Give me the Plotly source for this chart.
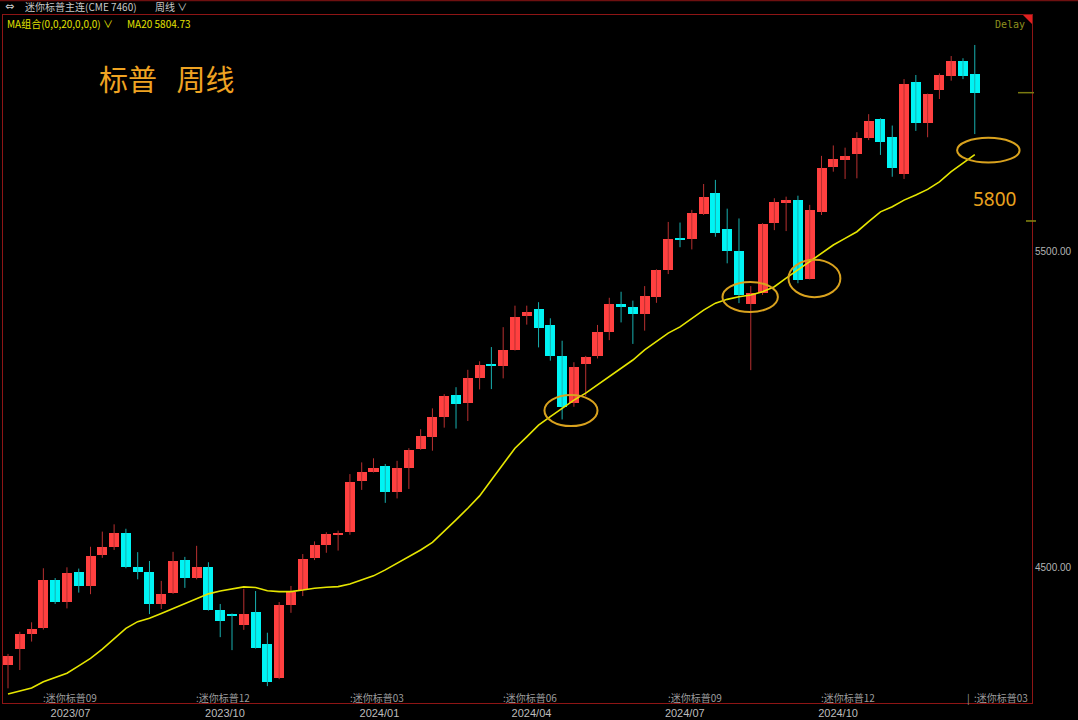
import plotly.graph_objects as go

# ---------------- data (weekly candles) ----------------
OPEN = [4190, 4240, 4289, 4308, 4459, 4390, 4485, 4440, 4538, 4564,
        4609, 4501, 4485, 4384, 4418, 4522, 4464, 4500, 4364, 4350,
        4317, 4358, 4256, 4148, 4380, 4427, 4528, 4569, 4603, 4610,
        4772, 4802, 4820, 4737, 4813, 4873, 4912, 4976, 5044, 5019,
        5097, 5143, 5135, 5187, 5294, 5316, 5266, 5169, 5018, 5142,
        5169, 5243, 5331, 5324, 5302, 5353, 5440, 5542, 5537, 5616,
        5685, 5569, 5500, 5332, 5366, 5588, 5654, 5661, 5412, 5624,
        5765, 5788, 5806, 5859, 5917, 5862, 5744, 6035, 5904, 6010,
        6055, 6100, 6061]
HIGH = [4225, 4295, 4325, 4496, 4465, 4499, 4495, 4564, 4612, 4635,
        4621, 4547, 4519, 4456, 4548, 4532, 4567, 4515, 4383, 4353,
        4431, 4424, 4292, 4389, 4440, 4541, 4581, 4610, 4615, 4794,
        4831, 4844, 4826, 4836, 4876, 4936, 5002, 5047, 5069, 5124,
        5151, 5196, 5259, 5327, 5327, 5338, 5287, 5216, 5148, 5168,
        5266, 5352, 5371, 5343, 5389, 5442, 5592, 5590, 5630, 5712,
        5725, 5634, 5603, 5389, 5588, 5667, 5672, 5675, 5646, 5801,
        5834, 5827, 5876, 5933, 5920, 5897, 6044, 6057, 5998, 6062,
        6117, 6110, 6152]
LOW = [4116, 4174, 4264, 4302, 4383, 4369, 4419, 4414, 4529, 4554,
       4496, 4461, 4351, 4367, 4415, 4434, 4461, 4362, 4278, 4237,
       4301, 4242, 4123, 4145, 4355, 4408, 4522, 4545, 4552, 4602,
       4744, 4799, 4703, 4717, 4747, 4871, 4868, 4941, 4938, 4962,
       5062, 5063, 5097, 5185, 5267, 5195, 5153, 4967, 5007, 5041,
       5160, 5218, 5274, 5206, 5248, 5336, 5427, 5512, 5505, 5614,
       5545, 5461, 5335, 5123, 5361, 5566, 5563, 5398, 5410, 5614,
       5751, 5728, 5730, 5851, 5804, 5735, 5728, 5880, 5860, 5981,
       6039, 6044, 5870]
CLOSE = [4219, 4288, 4305, 4460, 4389, 4482, 4440, 4536, 4564, 4608,
         4499, 4485, 4382, 4414, 4520, 4464, 4500, 4364, 4330, 4346,
         4351, 4245, 4137, 4379, 4422, 4524, 4569, 4604, 4607, 4769,
         4801, 4814, 4737, 4812, 4870, 4915, 4975, 5042, 5017, 5097,
         5140, 5135, 5186, 5292, 5307, 5257, 5169, 5007, 5134, 5165,
         5245, 5331, 5324, 5302, 5358, 5440, 5539, 5535, 5619, 5672,
         5556, 5501, 5361, 5368, 5585, 5655, 5660, 5408, 5630, 5763,
         5790, 5801, 5859, 5912, 5846, 5762, 6029, 5904, 5996, 6057,
         6102, 6055, 6001]
MA20 = [4098, 4108, 4117, 4137, 4150, 4164, 4187, 4211, 4240, 4274,
        4306, 4327, 4338, 4353, 4369, 4385, 4401, 4415, 4424, 4430,
        4437, 4435, 4425, 4422, 4422, 4427, 4433, 4436, 4438, 4446,
        4459, 4472, 4491, 4512, 4533, 4554, 4578, 4612, 4649, 4686,
        4725, 4775, 4826, 4876, 4912, 4949, 4976, 5002, 5028, 5050,
        5076, 5102, 5129, 5155, 5187, 5213, 5240, 5260, 5287, 5313,
        5335, 5347, 5355, 5361, 5371, 5387, 5414, 5440, 5466, 5493,
        5519, 5540, 5561, 5593, 5624, 5640, 5661, 5677, 5695, 5719,
        5751, 5778, 5805]
MA_LAST = "5804.73"

X_TICK_POS = [5.3, 18.4, 31.5, 44.4, 57.4, 70.4]
X_TICK_LABELS = ["2023/07", "2023/10", "2024/01", "2024/04", "2024/07", "2024/10"]
Y_TICKS = [4500, 5500]
Y_TICK_LABELS = ["4500.00", "5500.00"]
ROLL_IDX = [3, 16, 29, 42, 56, 69, 82]
ROLL_LABELS = ["迷你标普09", "迷你标普12", "迷你标普03", "迷你标普06",
               "迷你标普09", "迷你标普12", "迷你标普03"]
LAST_PRICE_MARK = 6001
REF_PRICE_MARK = 5595
CIRCLES = [  # (x0, x1, y0, y1) in week-index / price units
    (45.5, 50.0, 4946, 5044),
    (60.6, 65.3, 5307, 5402),
    (66.2, 70.6, 5354, 5472),
    (80.5, 85.8, 5780, 5858),
]
NOTE_TEXT = "5800"
NOTE_POS = (83.7, 5666)
TITLE = "标普\u00a0\u00a0\u00a0周线"

# ---------------- figure ----------------
W, H = 1078, 720
L, R, T, B = 3, 1032, 15, 703  # plot-area pixel box


def px(x):
    return (x - L) / (R - L)


def py(y):
    return (B - y) / (B - T)


UP, DOWN = "#FF4040", "#00F4F4"
UP_WICK, DOWN_WICK = "#B83030", "#18B0B0"

n = len(OPEN)
xs = list(range(n))
up = [c >= o for o, c in zip(OPEN, CLOSE)]

fig = go.Figure()

for flag, col in ((True, UP_WICK), (False, DOWN_WICK)):
    wx, wy = [], []
    for i in xs:
        if up[i] == flag:
            wx += [i, i, None]
            wy += [LOW[i], HIGH[i], None]
    fig.add_trace(go.Scatter(x=wx, y=wy, mode="lines",
                             line=dict(color=col, width=1),
                             hoverinfo="skip", showlegend=False))

base = [min(o, c) for o, c in zip(OPEN, CLOSE)]
height = [max(abs(c - o), 3) for o, c in zip(OPEN, CLOSE)]
fig.add_trace(go.Bar(x=xs, y=height, base=base, width=0.85,
                     marker=dict(color=[UP if u else DOWN for u in up],
                                 line=dict(width=0)),
                     showlegend=False,
                     customdata=list(zip(OPEN, HIGH, LOW, CLOSE)),
                     hovertemplate="O %{customdata[0]}<br>H %{customdata[1]}"
                                   "<br>L %{customdata[2]}<br>C %{customdata[3]}<extra></extra>"))

fig.add_trace(go.Scatter(x=xs, y=MA20, mode="lines",
                         line=dict(color="#E6E600", width=1.6),
                         name="MA20", showlegend=False))

x_lo = (L - 8) / 11.79
x_hi = (R - 8) / 11.79
y_lo = 4500 - (B - 567) / 0.316
y_hi = 4500 + (567 - T) / 0.316

shapes = []
for (x0, x1, y0, y1) in CIRCLES:
    shapes.append(dict(type="circle", xref="x", yref="y", x0=x0, x1=x1, y0=y0, y1=y1,
                       line=dict(color="#D9A21E", width=2)))
# price markers on right edge
shapes.append(dict(type="line", xref="paper", yref="y", x0=px(1018), x1=px(1034),
                   y0=LAST_PRICE_MARK, y1=LAST_PRICE_MARK, line=dict(color="#7A7A10", width=1.5)))
shapes.append(dict(type="line", xref="paper", yref="y", x0=px(1026), x1=px(1036),
                   y0=REF_PRICE_MARK, y1=REF_PRICE_MARK, line=dict(color="#8A8A10", width=1.5)))
# top outer line
shapes.append(dict(type="line", xref="paper", yref="paper", x0=px(0), x1=px(W),
                   y0=py(0.5), y1=py(0.5), line=dict(color="#6E1010", width=1.5)))
# delay corner triangle
shapes.append(dict(type="path", xref="paper", yref="paper",
                   path=f"M {px(1023)} {py(T)} L {px(R)} {py(T)} L {px(R)} {py(24)} Z",
                   fillcolor="#E02020", line=dict(width=0)))

ann = []
CJK = "Noto Sans CJK SC"
ann.append(dict(text=TITLE, xref="paper", yref="paper", x=px(97), y=py(78),
                xanchor="left", yanchor="middle", showarrow=False,
                font=dict(family=CJK, size=29, color="#EFA322")))
ann.append(dict(text=NOTE_TEXT, xref="x", yref="y", x=NOTE_POS[0], y=NOTE_POS[1],
                xanchor="center", yanchor="middle", showarrow=False,
                font=dict(family="Noto Sans", size=19, color="#E9A21F")))
for idx, lab in zip(ROLL_IDX, ROLL_LABELS):
    ann.append(dict(text=":" + lab, xref="x", yref="paper", x=idx - 0.2, y=py(697),
                    xanchor="left", yanchor="middle", showarrow=False,
                    font=dict(family=CJK, size=10, color="#9C9C9C")))
ann.append(dict(text="|", xref="x", yref="paper", x=ROLL_IDX[-1] - 0.55, y=py(697),
                xanchor="center", yanchor="middle", showarrow=False,
                font=dict(family=CJK, size=10, color="#9C9C9C")))
# header rows
ann.append(dict(text="⇔", xref="paper", yref="paper", x=px(3), y=py(7),
                xanchor="left", yanchor="middle", showarrow=False,
                font=dict(family="DejaVu Sans", size=11, color="#C8C8C8")))
ann.append(dict(text="迷你标普主连(CME 7460)", xref="paper", yref="paper", x=px(23), y=py(7),
                xanchor="left", yanchor="middle", showarrow=False,
                font=dict(family=CJK, size=10, color="#C8C8C8")))
ann.append(dict(text="周线 ∨", xref="paper", yref="paper", x=px(153), y=py(7),
                xanchor="left", yanchor="middle", showarrow=False,
                font=dict(family=CJK, size=10, color="#C8C8C8")))
ann.append(dict(text="MA组合(0,0,20,0,0,0) ∨", xref="paper", yref="paper", x=px(5), y=py(23),
                xanchor="left", yanchor="middle", showarrow=False,
                font=dict(family=CJK, size=10, color="#E0E000")))
ann.append(dict(text="MA20 " + MA_LAST, xref="paper", yref="paper", x=px(125), y=py(23),
                xanchor="left", yanchor="middle", showarrow=False,
                font=dict(family=CJK, size=10, color="#E0E000")))
ann.append(dict(text="Delay", xref="paper", yref="paper", x=px(1027), y=py(24),
                xanchor="right", yanchor="middle", showarrow=False,
                font=dict(family="DejaVu Sans Mono", size=10, color="#8F8F1E")))

fig.update_layout(
    width=W, height=H, autosize=False,
    margin=dict(l=L, r=W - R, t=T, b=H - B, pad=0),
    paper_bgcolor="#000000", plot_bgcolor="#000000",
    showlegend=False, bargap=0,
    shapes=shapes, annotations=ann,
    xaxis=dict(range=[x_lo, x_hi], showgrid=False, zeroline=False,
               showline=True, linecolor="#8E1515", linewidth=1, mirror=True,
               tickmode="array", tickvals=X_TICK_POS, ticktext=X_TICK_LABELS,
               ticks="", tickfont=dict(family="Liberation Sans", size=11, color="#BDBDBD"),
               automargin=False, fixedrange=True),
    yaxis=dict(range=[y_lo, y_hi], side="right", showgrid=False, zeroline=False,
               showline=True, linecolor="#8E1515", linewidth=1, mirror=True,
               tickmode="array", tickvals=Y_TICKS, ticktext=Y_TICK_LABELS,
               ticks="", tickfont=dict(family="Liberation Sans", size=10, color="#B4B4B4"),
               automargin=False, fixedrange=True),
)

fig.write_html(
    "out.html",
    config={"displayModeBar": False},
    post_script="document.body.style.margin='0';document.body.style.padding='0';"
                "document.body.style.background='#000';"
                "document.documentElement.style.overflow='hidden';",
)
